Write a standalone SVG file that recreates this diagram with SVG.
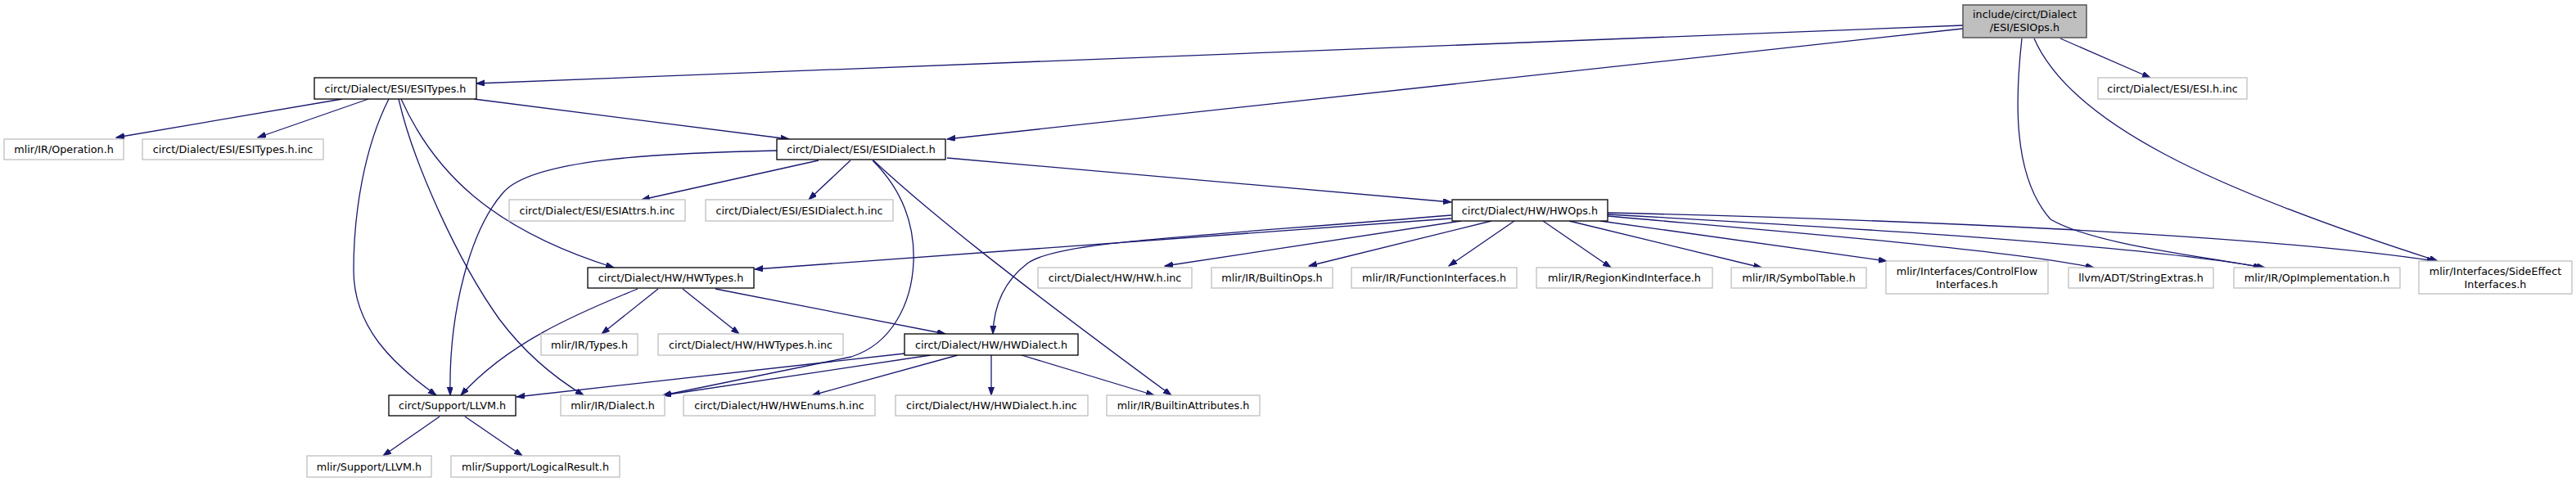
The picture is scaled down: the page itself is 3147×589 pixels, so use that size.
<svg xmlns="http://www.w3.org/2000/svg" width="3147" height="589" viewBox="0 0 3147 589">
<defs>
<style>
rect{fill:#fff;stroke:#000;stroke-width:1.3}
.x rect{stroke:#bfbfbf}
.root rect{fill:#bfbfbf;stroke:#404040}
text{font-family:"DejaVu Sans","Liberation Sans",sans-serif;font-size:12.75px;text-anchor:middle;fill:#000}
#edges path{fill:none;stroke:#191970;stroke-width:1.3;marker-end:url(#a)}
</style>
<marker id="a" markerUnits="userSpaceOnUse" markerWidth="11" markerHeight="8" refX="10" refY="3.5" orient="auto">
<path d="M0,0 L10,3.5 L0,7 z" fill="#191970" stroke="#191970" stroke-width="1"/>
</marker>
</defs>
<rect x="0" y="0" width="3147" height="589" style="fill:#fff;stroke:none"/>
<g id="edges">
<path d="M2398,31 L582,102"/>
<path d="M2398,35 L1157,170"/>
<path d="M2517,47 L2627,95"/>
<path d="M2470,47 C2462,120 2458,215 2505,268 C2560,300 2700,314 2763,327"/>
<path d="M2485,47 C2530,150 2700,230 2978,319"/>
<path d="M418,121 L142,168"/>
<path d="M450,121 L315,168"/>
<path d="M579,121 L964,170"/>
<path d="M475,121 C445,180 432,260 432,330 C432,400 480,445 533,483"/>
<path d="M487,121 C505,200 560,320 610,390 C640,430 675,460 713,483"/>
<path d="M490,121 C530,210 600,280 750,327"/>
<path d="M1000,196 L784,244"/>
<path d="M1039,196 L988,244"/>
<path d="M1157,193 L1773,247"/>
<path d="M950,184 C800,187 650,195 615,235 C575,280 548,380 550,483"/>
<path d="M1066,196 C1095,225 1118,265 1116,320 C1114,370 1090,420 1040,436 L810,483"/>
<path d="M1067,196 C1130,255 1230,335 1431,483"/>
<path d="M1773,267 L922,329"/>
<path d="M1773,263 C1450,290 1290,295 1255,322 C1225,345 1214,375 1213,408"/>
<path d="M1785,270 L1423,325"/>
<path d="M1822,270 L1599,325"/>
<path d="M1850,270 L1770,325"/>
<path d="M1885,270 L1968,327"/>
<path d="M1917,270 L2152,327"/>
<path d="M1955,270 L2305,319"/>
<path d="M1964,264 C2200,285 2450,305 2558,327"/>
<path d="M1964,262 C2250,278 2600,298 2767,327"/>
<path d="M1964,260 C2300,268 2750,285 2975,319"/>
<path d="M779,353 C700,385 620,420 563,483"/>
<path d="M804,353 L735,408"/>
<path d="M834,353 L903,408"/>
<path d="M874,353 L1155,408"/>
<path d="M1105,432 L631,485"/>
<path d="M1137,434 L810,483"/>
<path d="M1170,434 L992,483"/>
<path d="M1211,434 L1211,483"/>
<path d="M1248,434 L1410,483"/>
<path d="M537,509 L468,557"/>
<path d="M568,509 L638,557"/>
</g>
<g id="n-esiops" class="root"><rect x="2398" y="6" width="151" height="40"/><text x="2473.5" y="21.8">include/circt/Dialect</text><text x="2473.5" y="37.8">/ESI/ESIOps.h</text></g>
<g id="n-esitypes"><rect x="384" y="95" width="198" height="26"/><text x="483" y="112.5">circt/Dialect/ESI/ESITypes.h</text></g>
<g id="n-esihinc" class="x"><rect x="2563" y="95" width="182" height="26"/><text x="2654" y="112.5">circt/Dialect/ESI/ESI.h.inc</text></g>
<g id="n-operation" class="x"><rect x="5" y="170" width="146" height="25"/><text x="78" y="187">mlir/IR/Operation.h</text></g>
<g id="n-esitypesinc" class="x"><rect x="174" y="170" width="221" height="25"/><text x="284.5" y="187">circt/Dialect/ESI/ESITypes.h.inc</text></g>
<g id="n-esidialect"><rect x="949" y="170" width="206" height="25"/><text x="1052" y="187">circt/Dialect/ESI/ESIDialect.h</text></g>
<g id="n-esiattrs" class="x"><rect x="622" y="244" width="215" height="26"/><text x="729.5" y="261.5">circt/Dialect/ESI/ESIAttrs.h.inc</text></g>
<g id="n-esidialectinc" class="x"><rect x="862" y="244" width="229" height="26"/><text x="976.5" y="261.5">circt/Dialect/ESI/ESIDialect.h.inc</text></g>
<g id="n-hwops"><rect x="1774" y="244" width="190" height="26"/><text x="1869" y="261.5">circt/Dialect/HW/HWOps.h</text></g>
<g id="n-sideeffect" class="x"><rect x="2955" y="319" width="187" height="40"/><text x="3048.5" y="335.5">mlir/Interfaces/SideEffect</text><text x="3048.5" y="351.5">Interfaces.h</text></g>
<g id="n-opimpl" class="x"><rect x="2729" y="327" width="203" height="25"/><text x="2830.5" y="344">mlir/IR/OpImplementation.h</text></g>
<g id="n-hwtypes"><rect x="718" y="327" width="203" height="25"/><text x="819.5" y="344">circt/Dialect/HW/HWTypes.h</text></g>
<g id="n-hwhinc" class="x"><rect x="1268" y="327" width="188" height="25"/><text x="1362" y="344">circt/Dialect/HW/HW.h.inc</text></g>
<g id="n-builtinops" class="x"><rect x="1480" y="327" width="148" height="25"/><text x="1554" y="344">mlir/IR/BuiltinOps.h</text></g>
<g id="n-funcif" class="x"><rect x="1651" y="327" width="202" height="25"/><text x="1752" y="344">mlir/IR/FunctionInterfaces.h</text></g>
<g id="n-regionkind" class="x"><rect x="1877" y="327" width="215" height="25"/><text x="1984.5" y="344">mlir/IR/RegionKindInterface.h</text></g>
<g id="n-symtab" class="x"><rect x="2115" y="327" width="165" height="25"/><text x="2197.5" y="344">mlir/IR/SymbolTable.h</text></g>
<g id="n-controlflow" class="x"><rect x="2304" y="319" width="198" height="40"/><text x="2403" y="335.5">mlir/Interfaces/ControlFlow</text><text x="2403" y="351.5">Interfaces.h</text></g>
<g id="n-stringextras" class="x"><rect x="2527" y="327" width="177" height="25"/><text x="2615.5" y="344">llvm/ADT/StringExtras.h</text></g>
<g id="n-types" class="x"><rect x="661" y="408" width="118" height="26"/><text x="720" y="425.5">mlir/IR/Types.h</text></g>
<g id="n-hwtypesinc" class="x"><rect x="804" y="408" width="226" height="26"/><text x="917" y="425.5">circt/Dialect/HW/HWTypes.h.inc</text></g>
<g id="n-hwdialect"><rect x="1105" y="408" width="212" height="26"/><text x="1211" y="425.5">circt/Dialect/HW/HWDialect.h</text></g>
<g id="n-llvm"><rect x="475" y="483" width="155" height="25"/><text x="552.5" y="500">circt/Support/LLVM.h</text></g>
<g id="n-dialect" class="x"><rect x="685" y="483" width="127" height="25"/><text x="748.5" y="500">mlir/IR/Dialect.h</text></g>
<g id="n-hwenums" class="x"><rect x="835" y="483" width="234" height="25"/><text x="952" y="500">circt/Dialect/HW/HWEnums.h.inc</text></g>
<g id="n-hwdialectinc" class="x"><rect x="1094" y="483" width="235" height="25"/><text x="1211.5" y="500">circt/Dialect/HW/HWDialect.h.inc</text></g>
<g id="n-builtinattrs" class="x"><rect x="1352" y="483" width="187" height="25"/><text x="1445.5" y="500">mlir/IR/BuiltinAttributes.h</text></g>
<g id="n-mlirllvm" class="x"><rect x="375" y="557" width="152" height="26"/><text x="451" y="574.5">mlir/Support/LLVM.h</text></g>
<g id="n-logicalresult" class="x"><rect x="551" y="557" width="206" height="26"/><text x="654" y="574.5">mlir/Support/LogicalResult.h</text></g>
</svg>
